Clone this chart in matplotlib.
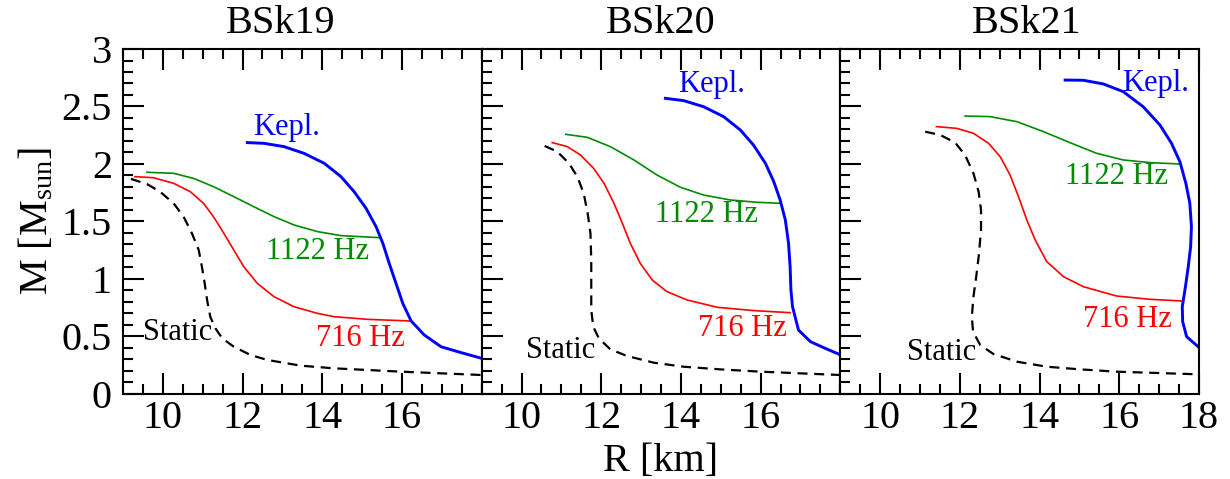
import matplotlib.pyplot as plt
from matplotlib.ticker import MultipleLocator

plt.rcParams['font.family'] = ['Liberation Serif', 'DejaVu Serif']
plt.rcParams['mathtext.fontset'] = 'custom'
plt.rcParams['mathtext.rm'] = 'Liberation Serif'
plt.rcParams['mathtext.it'] = 'Liberation Serif:italic'

titles = ['BSk19', 'BSk20', 'BSk21']

# BSk19
r_static_19 = [9.20, 9.60, 9.93, 10.27, 10.52, 10.73, 10.90, 10.98, 11.05, 11.11, 11.19, 11.32,
               11.49, 11.78, 12.20, 12.62, 13.46, 14.30, 15.98, 18.0]
m_static_19 = [1.870, 1.826, 1.759, 1.658, 1.542, 1.397, 1.252, 1.107, 0.962, 0.817, 0.672, 0.571,
               0.484, 0.411, 0.339, 0.296, 0.246, 0.223, 0.194, 0.165]
r_716_19 = [9.30, 9.76, 10.27, 10.69, 11.02, 11.27, 11.53, 11.78, 12.03, 12.37, 12.79, 13.29,
            13.88, 14.30, 15.14, 16.19]
m_716_19 = [1.890, 1.881, 1.832, 1.759, 1.658, 1.542, 1.397, 1.252, 1.107, 0.962, 0.846, 0.759,
            0.701, 0.672, 0.649, 0.635]
r_1122_19 = [9.60, 10.27, 10.77, 11.27, 11.78, 12.28, 12.79, 13.29, 13.88, 14.47, 15.47]
m_1122_19 = [1.928, 1.919, 1.875, 1.803, 1.716, 1.629, 1.542, 1.470, 1.412, 1.377, 1.359]
r_kepl_19 = [12.12, 12.53, 13.04, 13.54, 14.05, 14.47, 14.80, 15.10, 15.35, 15.52, 15.68, 15.85,
             16.02, 16.23, 16.56, 16.98, 17.49, 18.0]
m_kepl_19 = [2.186, 2.180, 2.151, 2.093, 2.006, 1.890, 1.759, 1.614, 1.455, 1.310, 1.136, 0.962,
             0.788, 0.635, 0.513, 0.411, 0.359, 0.310]

# BSk20
r_static_20 = [10.58, 10.90, 11.19, 11.40, 11.56, 11.66, 11.73, 11.75, 11.75, 11.75, 11.80, 11.94,
               12.23, 12.65, 13.32, 14.07, 14.99, 15.99, 18.0]
m_static_20 = [2.157, 2.107, 2.006, 1.890, 1.745, 1.571, 1.397, 1.165, 0.933, 0.730, 0.585, 0.484,
               0.388, 0.330, 0.272, 0.237, 0.214, 0.194, 0.165]
r_716_20 = [10.77, 11.15, 11.48, 11.81, 12.07, 12.32, 12.53, 12.73, 12.98, 13.28, 13.65, 14.16,
            14.91, 15.83, 16.74]
m_716_20 = [2.186, 2.151, 2.078, 1.962, 1.832, 1.658, 1.484, 1.310, 1.136, 0.991, 0.890, 0.817,
            0.754, 0.725, 0.707]
r_1122_20 = [11.11, 11.65, 12.23, 12.82, 13.40, 13.99, 14.57, 15.24, 15.91, 16.49]
m_1122_20 = [2.258, 2.232, 2.151, 2.035, 1.904, 1.797, 1.730, 1.687, 1.667, 1.658]
r_kepl_20 = [13.61, 14.07, 14.57, 15.07, 15.49, 15.82, 16.12, 16.33, 16.49, 16.62, 16.70, 16.74,
             16.76, 16.80, 16.95, 17.25, 17.58, 17.95]
m_kepl_20 = [2.571, 2.551, 2.498, 2.412, 2.296, 2.165, 2.006, 1.846, 1.687, 1.513, 1.310, 1.107,
             0.904, 0.759, 0.556, 0.455, 0.403, 0.348]

# BSk21
r_static_21 = [11.13, 11.51, 11.88, 12.13, 12.34, 12.47, 12.53, 12.53, 12.48, 12.41, 12.34, 12.30,
               12.33, 12.51, 12.84, 13.43, 14.18, 15.02, 15.93, 17.98]
m_static_21 = [2.281, 2.252, 2.186, 2.078, 1.919, 1.759, 1.600, 1.426, 1.223, 1.020, 0.846, 0.672,
               0.542, 0.426, 0.348, 0.281, 0.237, 0.214, 0.194, 0.171]
r_716_21 = [11.41, 11.92, 12.34, 12.72, 13.01, 13.26, 13.47, 13.68, 13.89, 14.18, 14.60, 15.10,
            15.93, 16.77, 17.56]
m_716_21 = [2.325, 2.310, 2.267, 2.180, 2.064, 1.904, 1.716, 1.513, 1.339, 1.151, 1.020, 0.933,
            0.852, 0.823, 0.809]
r_1122_21 = [12.13, 12.76, 13.43, 14.10, 14.76, 15.43, 16.10, 16.77, 17.52]
m_1122_21 = [2.417, 2.412, 2.368, 2.281, 2.186, 2.093, 2.035, 2.012, 2.000]
r_kepl_21 = [14.64, 15.10, 15.60, 16.10, 16.60, 17.02, 17.31, 17.52, 17.67, 17.77, 17.81, 17.79,
             17.73, 17.66, 17.58, 17.59, 17.69, 17.98]
m_kepl_21 = [2.730, 2.728, 2.696, 2.629, 2.498, 2.339, 2.180, 2.020, 1.832, 1.658, 1.455, 1.281,
             1.107, 0.933, 0.759, 0.629, 0.498, 0.411]

panels = [
    (r_static_19, m_static_19, r_716_19, m_716_19, r_1122_19, m_1122_19, r_kepl_19, m_kepl_19),
    (r_static_20, m_static_20, r_716_20, m_716_20, r_1122_20, m_1122_20, r_kepl_20, m_kepl_20),
    (r_static_21, m_static_21, r_716_21, m_716_21, r_1122_21, m_1122_21, r_kepl_21, m_kepl_21),
]

# label anchors (left edge, vertical centre) per panel: Kepl., 1122 Hz, 716 Hz, Static
label_pos = [
    [(12.27, 2.32), (12.58, 1.24), (13.84, 0.48), (9.5, 0.535)],
    [(13.94, 2.69), (13.36, 1.56), (14.44, 0.57), (10.1, 0.38)],
    [(16.07, 2.70), (14.64, 1.89), (15.09, 0.65), (10.68, 0.365)],
]
title_x = [0.44, 0.5, 0.52]

blue = '#0000ff'
green = '#008b00'
red = '#ff0000'

fig = plt.figure(figsize=(12.3, 4.79), dpi=100)
left, right, bottom, top = 0.1, 0.9748, 0.1775, 0.8977
w = (right - left) / 3

for i, data in enumerate(panels):
    ax = fig.add_axes([left + i * w, bottom, w, top - bottom])
    rs, ms, r716, m716, r1122, m1122, rk, mk = data
    ax.plot(rs, ms, color='black', lw=1.6, dashes=(4.5, 3))
    ax.plot(r716, m716, color=red, lw=1.2)
    ax.plot(r1122, m1122, color=green, lw=1.2)
    ax.plot(rk, mk, color=blue, lw=2.1)

    lp = label_pos[i]
    ax.text(lp[0][0], lp[0][1], 'Kepl.', color=blue, fontsize=22, va='center')
    ax.text(lp[1][0], lp[1][1], '1122 Hz', color=green, fontsize=22, va='center')
    ax.text(lp[2][0], lp[2][1], '716 Hz', color=red, fontsize=22, va='center')
    ax.text(lp[3][0], lp[3][1], 'Static', color='black', fontsize=22, va='center')

    ax.set_xlim(9, 18)
    ax.set_ylim(0, 3)
    if i == 2:
        ax.set_xticks([10, 12, 14, 16, 18])
    else:
        ax.set_xticks([10, 12, 14, 16])
    ax.xaxis.set_minor_locator(MultipleLocator(0.5))
    ax.yaxis.set_major_locator(MultipleLocator(0.5))
    ax.yaxis.set_minor_locator(MultipleLocator(0.1))
    ax.tick_params(which='both', direction='in', top=True, right=False, width=1.5,
                   labelsize=29)
    ax.tick_params(which='major', length=15)
    ax.tick_params(which='minor', length=7)
    ax.tick_params(axis='x', pad=4)
    ax.tick_params(axis='y', pad=8)
    if i == 0:
        ax.set_yticks([0, 0.5, 1, 1.5, 2, 2.5, 3])
        ax.set_yticklabels(['0', '0.5', '1', '1.5', '2', '2.5', '3'])
        ax.set_ylabel(r'M [M$_{\mathrm{sun}}$]', fontsize=29, labelpad=4)
    else:
        ax.set_yticklabels([])
    if i == 1:
        ax.set_xlabel('R [km]', fontsize=29, labelpad=5)
    for s in ax.spines.values():
        s.set_linewidth(1.5)
    ax.text(title_x[i], 1.046, titles[i], transform=ax.transAxes, ha='center',
            va='baseline', fontsize=29)

fig.savefig('out.png', dpi=100)
